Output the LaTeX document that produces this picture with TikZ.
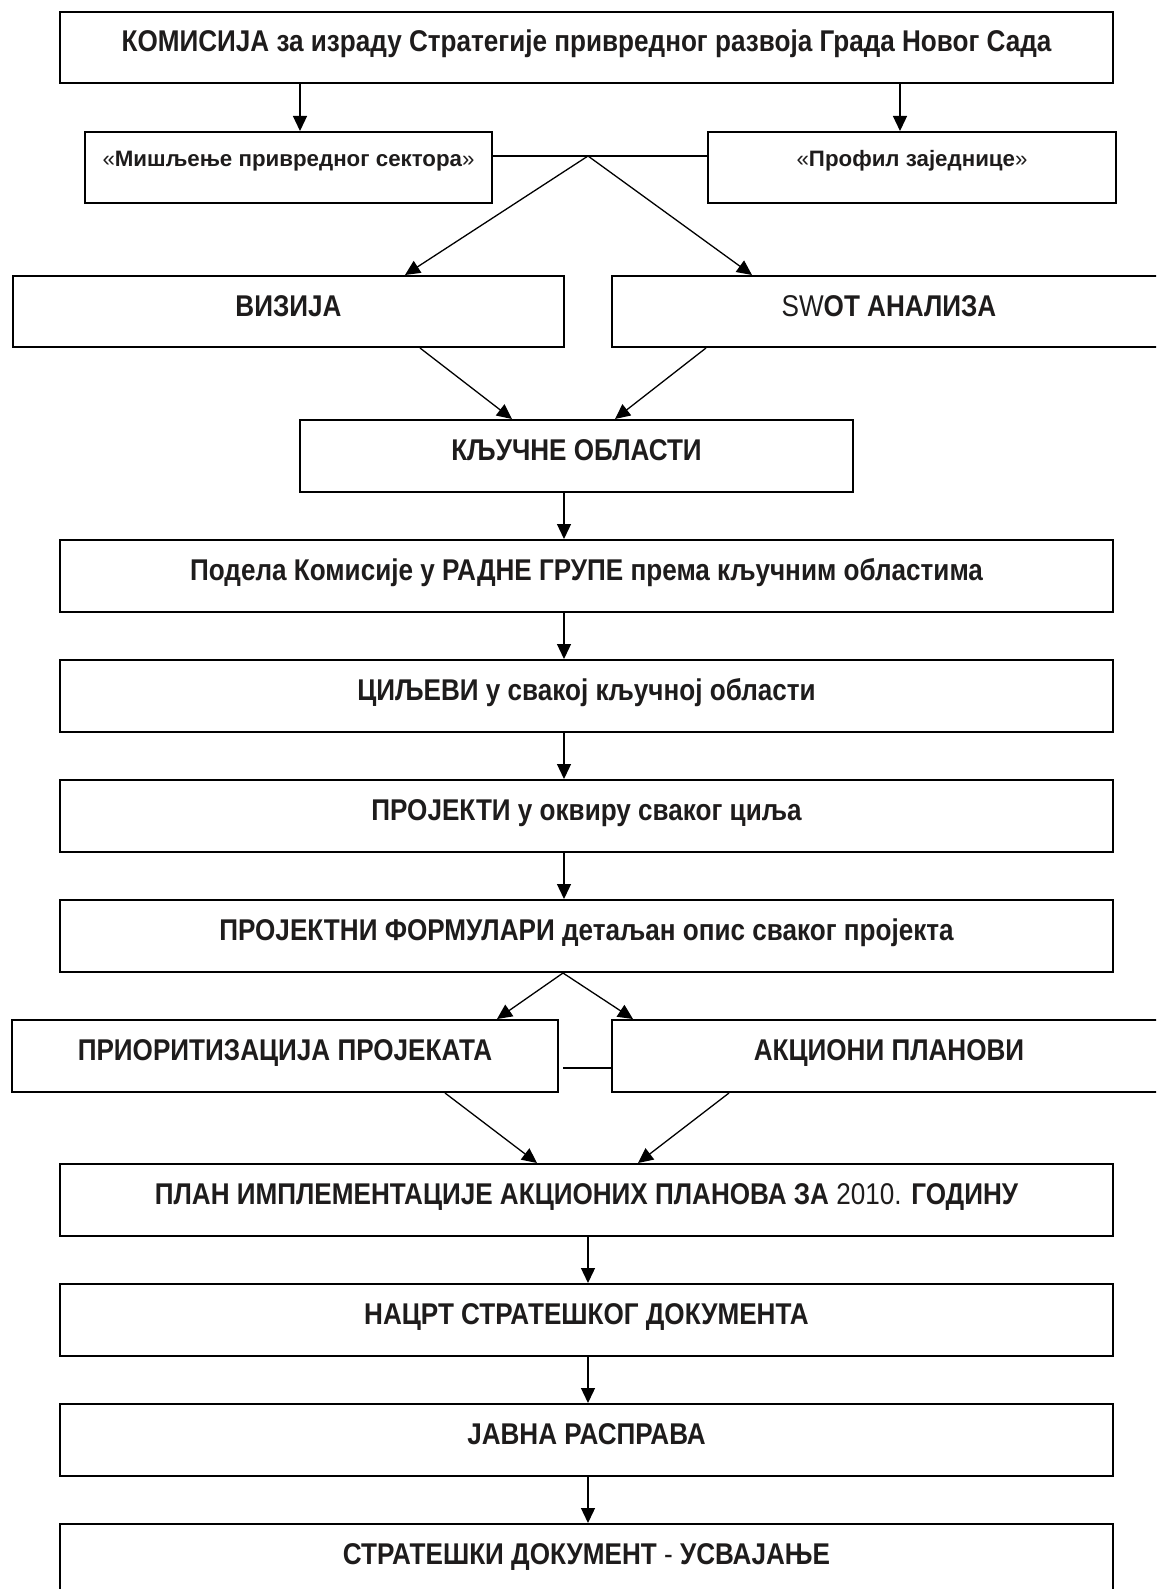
\documentclass[tikz,border=0pt]{standalone}
\usepackage{fontspec}
\setmainfont{Liberation Sans}[FakeStretch=0.87]
\newfontfamily\plainsans{Liberation Sans}
\usetikzlibrary{arrows.meta}
\definecolor{ink}{RGB}{30,28,28}
\begin{document}
\begin{tikzpicture}[x=1pt,y=-1pt,
  box/.style={draw=black, line width=2pt, rectangle, inner sep=0pt},
  conn/.style={draw=black, line width=1.3pt},
  arr/.style={conn, -{Triangle[length=15pt,width=14pt]}},
  bigtxt/.style={font=\fontsize{30}{36}\selectfont\bfseries, text=ink, anchor=base, inner sep=0pt},
  smalltxt/.style={font=\plainsans\fontsize{22.3}{27}\selectfont\bfseries, text=ink, anchor=base, inner sep=0pt},
  wide/.style={box, minimum width=1053pt, minimum height=72pt}]
\clip (0,0) rectangle (1156,1589);
\fill[white] (0,0) rectangle (1156,1589);
% boxes
\node[box, minimum width=1053pt, minimum height=71pt] (top) at (586.5,47.5) {};
\node[box, minimum width=407pt, minimum height=71pt] (ml) at (288.5,167.5) {};
\node[box, minimum width=408pt, minimum height=71pt] (mr) at (912,167.5) {};
\node[box, minimum width=551pt, minimum height=71pt] (viz) at (288.5,311.5) {};
\node[box, minimum width=554pt, minimum height=71pt] (swot) at (889,311.5) {};
\node[box, minimum width=553pt, minimum height=72pt] (kl) at (576.5,456) {};
\node[wide] (pod) at (586.5,576) {};
\node[wide] (cil) at (586.5,696) {};
\node[wide] (proj) at (586.5,816) {};
\node[wide] (form) at (586.5,936) {};
\node[box, minimum width=546pt, minimum height=72pt] (pri) at (285,1056) {};
\node[box, minimum width=554pt, minimum height=72pt] (akc) at (889,1056) {};
\node[wide] (plan) at (586.5,1200) {};
\node[wide] (nac) at (586.5,1320) {};
\node[wide] (jav) at (586.5,1440) {};
\node[wide] (str) at (586.5,1560) {};
% texts
\node[bigtxt] (topt) at ([yshift=-4.5pt]top.center) {КОМИСИЈА за израду Стратегије привредног развоја Града Новог Сада};
\node[smalltxt] (mlt) at ([yshift=1pt]ml.center) {{\mdseries«}Мишљење привредног сектора{\mdseries»}};
\node[smalltxt] (mrt) at ([yshift=1pt]mr.center) {{\mdseries«}Профил заједнице{\mdseries»}};
\node[bigtxt] (vizt) at ([yshift=-5pt]viz.center) {ВИЗИЈА};
\node[bigtxt] (swott) at ([yshift=-5pt]swot.center) {{\mdseries SW}OT АНАЛИЗА};
\node[bigtxt] (klt) at ([yshift=-4.5pt]kl.center) {КЉУЧНЕ ОБЛАСТИ};
\node[bigtxt] (podt) at ([yshift=-4.5pt]pod.center) {Подела Комисије у РАДНЕ ГРУПЕ према кључним областима};
\node[bigtxt] (cilt) at ([yshift=-4.5pt]cil.center) {ЦИЉЕВИ у свакој кључној области};
\node[bigtxt] (projt) at ([yshift=-4.5pt]proj.center) {ПРОЈЕКТИ у оквиру сваког циља};
\node[bigtxt] (formt) at ([yshift=-4.5pt]form.center) {ПРОЈЕКТНИ ФОРМУЛАРИ детаљан опис сваког пројекта};
\node[bigtxt] (prit) at ([yshift=-4.5pt]pri.center) {ПРИОРИТИЗАЦИЈА ПРОЈЕКАТА};
\node[bigtxt] (akct) at ([yshift=-4.5pt]akc.center) {АКЦИОНИ ПЛАНОВИ};
\node[bigtxt] (plant) at ([yshift=-4.5pt]plan.center) {ПЛАН ИМПЛЕМЕНТАЦИЈЕ АКЦИОНИХ ПЛАНОВА ЗА {\mdseries 2010.} ГОДИНУ};
\node[bigtxt] (nact) at ([yshift=-4.5pt]nac.center) {НАЦРТ СТРАТЕШКОГ ДОКУМЕНТА};
\node[bigtxt] (javt) at ([yshift=-4.5pt]jav.center) {ЈАВНА РАСПРАВА};
\node[bigtxt] (strt) at ([yshift=-4.5pt]str.center) {СТРАТЕШКИ ДОКУМЕНТ {\mdseries -} УСВАЈАЊЕ};
% helper coordinates
\coordinate (xa) at (300,0);
\coordinate (xb) at (900,0);
\coordinate (apex) at (588,156);
\coordinate (vtip) at (405,0);
\coordinate (stip) at (752,0);
\coordinate (vfrom) at (420,0);
\coordinate (sfrom) at (706,0);
\coordinate (ktipl) at (512,0);
\coordinate (ktipr) at (615,0);
\coordinate (xc) at (564,0);
\coordinate (fapex) at (563,0);
\coordinate (ptipl) at (497,0);
\coordinate (ptipr) at (633,0);
\coordinate (pj) at (563,1068);
\coordinate (pfrom) at (445,0);
\coordinate (afrom) at (729,0);
\coordinate (ltipl) at (537,0);
\coordinate (ltipr) at (638,0);
\coordinate (xd) at (588,0);
% connectors
\draw[arr] (xa |- top.south) -- (xa |- ml.north);
\draw[arr] (xb |- top.south) -- (xb |- mr.north);
\draw[conn] (ml.east |- apex) -- (mr.west |- apex);
\draw[arr] (apex) -- (vtip |- viz.north);
\draw[arr] (apex) -- (stip |- swot.north);
\draw[arr] (vfrom |- viz.south) -- (ktipl |- kl.north);
\draw[arr] (sfrom |- swot.south) -- (ktipr |- kl.north);
\draw[arr] (xc |- kl.south) -- (xc |- pod.north);
\draw[arr] (xc |- pod.south) -- (xc |- cil.north);
\draw[arr] (xc |- cil.south) -- (xc |- proj.north);
\draw[arr] (xc |- proj.south) -- (xc |- form.north);
\draw[arr] (fapex |- form.south) -- (ptipl |- pri.north);
\draw[arr] (fapex |- form.south) -- (ptipr |- akc.north);
\draw[conn] (pj) -- (pj -| akc.west);
\draw[arr] (pfrom |- pri.south) -- (ltipl |- plan.north);
\draw[arr] (afrom |- akc.south) -- (ltipr |- plan.north);
\draw[arr] (xd |- plan.south) -- (xd |- nac.north);
\draw[arr] (xd |- nac.south) -- (xd |- jav.north);
\draw[arr] (xd |- jav.south) -- (xd |- str.north);
\end{tikzpicture}
\end{document}
